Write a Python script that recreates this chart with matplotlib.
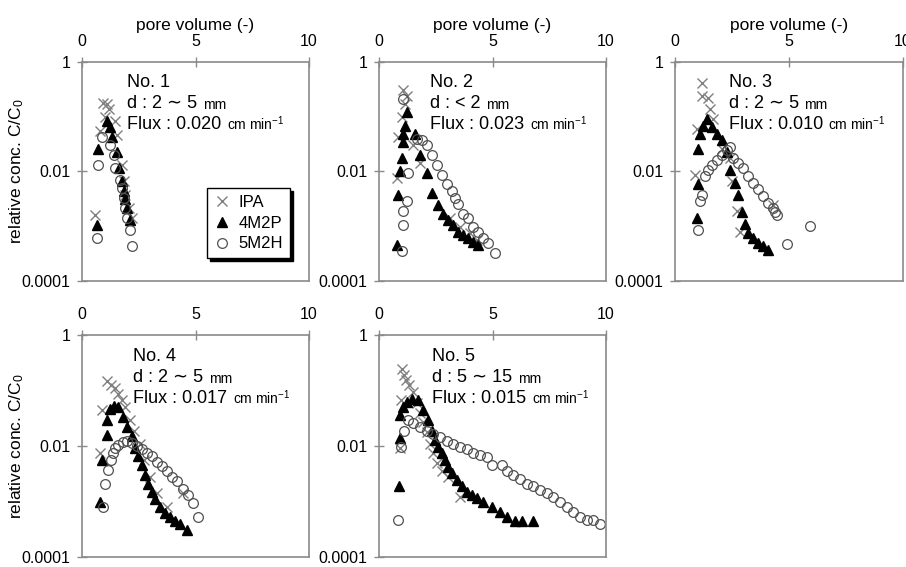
import numpy as np
import matplotlib.pyplot as plt

plt.rcParams['font.family'] = ['Liberation Sans', 'DejaVu Sans']
plt.rcParams['mathtext.fontset'] = 'custom'
plt.rcParams['mathtext.rm'] = 'Liberation Sans'
plt.rcParams['mathtext.it'] = 'Liberation Sans'

# Panel 1
p1_ipa_x = [0.94, 1.12, 1.21, 1.02, 0.80, 1.46, 1.53, 1.76, 1.83, 1.90, 2.05, 2.20, 0.58]
p1_ipa_y = [0.18, 0.17, 0.14, 0.10, 0.056, 0.085, 0.046, 0.013, 0.0066, 0.0038, 0.0022, 0.0014, 0.0016]
p1_m2p_x = [0.72, 1.09, 1.24, 1.31, 1.53, 1.65, 1.76, 1.83, 1.90, 1.98, 2.12, 0.65]
p1_m2p_y = [0.026, 0.085, 0.065, 0.043, 0.023, 0.0115, 0.0067, 0.0044, 0.0031, 0.0022, 0.0013, 0.00104]
p1_m2h_x = [0.72, 0.87, 1.24, 1.39, 1.46, 1.68, 1.76, 1.83, 1.90, 1.98, 2.12, 2.20, 0.65]
p1_m2h_y = [0.013, 0.043, 0.030, 0.020, 0.0115, 0.0071, 0.005, 0.0033, 0.0022, 0.0014, 0.00085, 0.00043, 0.0006]

# Panel 2
p2_ipa_x = [1.07, 1.22, 1.15, 1.00, 0.85, 1.51, 1.81, 0.78, 3.13, 3.57, 4.00, 4.30]
p2_ipa_y = [0.31, 0.24, 0.17, 0.10, 0.043, 0.030, 0.014, 0.0076, 0.0014, 0.00097, 0.00074, 0.00056]
p2_m2p_x = [0.78, 0.85, 0.93, 1.00, 1.07, 1.07, 1.15, 1.22, 1.59, 1.81, 2.10, 2.32, 2.61, 2.83,
            3.05, 3.27, 3.49, 3.71, 3.93, 4.15, 4.37]
p2_m2p_y = [0.00046, 0.0038, 0.010, 0.0175, 0.035, 0.049, 0.069, 0.12, 0.049, 0.020, 0.0094, 0.0041,
            0.0024, 0.0017, 0.0013, 0.00105, 0.00079, 0.00069, 0.0006, 0.00052, 0.00046]
p2_m2h_x = [1.00, 1.07, 1.07, 1.22, 1.29, 1.07, 1.66, 1.88, 2.10, 2.32, 2.54, 2.76, 2.98, 3.20,
            3.35, 3.49, 3.71, 3.93, 4.15, 4.37, 4.59, 4.81, 5.11]
p2_m2h_y = [0.00035, 0.00105, 0.0019, 0.0029, 0.0094, 0.21, 0.040, 0.037, 0.030, 0.020, 0.013,
            0.0088, 0.0058, 0.0044, 0.0033, 0.0025, 0.0017, 0.0014, 0.00097, 0.00079, 0.0006,
            0.00049, 0.00032]

# Panel 3
p3_ipa_x = [1.17, 1.17, 1.46, 1.54, 1.68, 0.95, 2.05, 2.41, 0.88, 2.48, 2.70, 2.85, 4.31]
p3_ipa_y = [0.41, 0.24, 0.22, 0.14, 0.091, 0.060, 0.026, 0.0175, 0.0088, 0.0066, 0.0019, 0.00079, 0.0024]
p3_m2p_x = [0.95, 1.02, 1.02, 1.10, 1.24, 1.39, 1.61, 1.83, 2.05, 2.27, 2.41, 2.63, 2.78, 2.92,
            3.07, 3.22, 3.43, 3.65, 3.87, 4.09]
p3_m2p_y = [0.0014, 0.0058, 0.026, 0.049, 0.069, 0.091, 0.065, 0.049, 0.037, 0.023, 0.0108, 0.0062,
            0.0038, 0.0018, 0.0011, 0.00074, 0.0006, 0.00049, 0.00043, 0.00037]
p3_m2h_x = [1.02, 1.10, 1.17, 1.32, 1.46, 1.61, 1.83, 2.05, 2.27, 2.41, 2.56, 2.78, 3.00, 3.22,
            3.43, 3.65, 3.87, 4.09, 4.31, 4.39, 4.46, 4.90, 5.92]
p3_m2h_y = [0.00085, 0.0029, 0.0038, 0.0082, 0.0108, 0.013, 0.016, 0.020, 0.025, 0.028, 0.0175,
            0.014, 0.0115, 0.0082, 0.0062, 0.0047, 0.0036, 0.0027, 0.0022, 0.0018, 0.0016,
            0.00048, 0.001]

# Panel 4
p4_ipa_x = [1.09, 1.26, 1.45, 1.60, 1.75, 1.89, 0.87, 2.11, 0.79, 2.29, 2.56, 2.73, 3.00, 3.29, 3.73, 4.46]
p4_ipa_y = [0.15, 0.126, 0.11, 0.087, 0.068, 0.051, 0.045, 0.029, 0.0074, 0.019, 0.011, 0.0056,
            0.0028, 0.0014, 0.00081, 0.0014]
p4_m2p_x = [0.79, 0.87, 1.09, 1.09, 1.23, 1.41, 1.60, 1.82, 2.00, 2.19, 2.33, 2.48, 2.63, 2.78,
            2.92, 3.07, 3.22, 3.44, 3.66, 3.88, 4.10, 4.32, 4.61]
p4_m2p_y = [0.001, 0.0056, 0.016, 0.029, 0.046, 0.053, 0.050, 0.034, 0.022, 0.015, 0.0091, 0.0065,
            0.0046, 0.0030, 0.0021, 0.0015, 0.0011, 0.00081, 0.00063, 0.00052, 0.00045, 0.00039,
            0.00031]
p4_m2h_x = [0.94, 1.01, 1.16, 1.26, 1.35, 1.45, 1.60, 1.79, 1.97, 2.19, 2.41, 2.63, 2.85, 3.07,
            3.29, 3.51, 3.73, 3.95, 4.17, 4.46, 4.68, 4.90, 5.12]
p4_m2h_y = [0.00081, 0.0021, 0.0037, 0.0056, 0.0074, 0.0091, 0.0105, 0.012, 0.0125, 0.0115, 0.010,
            0.0087, 0.0076, 0.0065, 0.0052, 0.0043, 0.0035, 0.0028, 0.0023, 0.0017, 0.0013,
            0.00093, 0.00053]

# Panel 5
p5_ipa_x = [1.03, 1.11, 1.19, 1.34, 0.95, 1.51, 1.66, 1.81, 1.95, 2.10, 2.25, 2.39, 2.54, 2.76,
            3.05, 3.57, 0.93]
p5_ipa_y = [0.24, 0.19, 0.155, 0.126, 0.068, 0.095, 0.059, 0.039, 0.027, 0.018, 0.011, 0.0074,
            0.0049, 0.0035, 0.0028, 0.00123, 0.0091]
p5_m2p_x = [0.90, 0.93, 0.93, 1.04, 1.22, 1.44, 1.73, 1.95, 2.17, 2.32, 2.47, 2.61, 2.76, 2.91,
            3.05, 3.20, 3.42, 3.64, 3.86, 4.08, 4.30, 4.60, 4.96, 5.33, 5.63, 5.99, 6.29, 6.80]
p5_m2p_y = [0.0019, 0.0138, 0.036, 0.051, 0.063, 0.069, 0.068, 0.045, 0.029, 0.019, 0.0128, 0.0097,
            0.0074, 0.0056, 0.0042, 0.0032, 0.0024, 0.0019, 0.0015, 0.0013, 0.00114, 0.001,
            0.00079, 0.00066, 0.00053, 0.00044, 0.00044, 0.00044]
p5_m2h_x = [0.85, 0.95, 1.10, 1.29, 1.51, 1.81, 2.10, 2.39, 2.69, 2.98, 3.27, 3.57, 3.86, 4.15,
            4.45, 4.74, 4.96, 5.41, 5.63, 5.92, 6.21, 6.51, 6.80, 7.09, 7.39, 7.68, 7.97, 8.27,
            8.56, 8.85, 9.15, 9.44, 9.74]
p5_m2h_y = [0.00047, 0.0097, 0.019, 0.029, 0.026, 0.022, 0.019, 0.0166, 0.0144, 0.0125, 0.0109,
            0.0097, 0.0087, 0.0076, 0.0069, 0.0063, 0.0046, 0.0046, 0.0035, 0.0030, 0.0025,
            0.0021, 0.0019, 0.0016, 0.0014, 0.00123, 0.001, 0.00081, 0.00066, 0.00053, 0.00047,
            0.00047, 0.00039]

panel_names = ['No. 1', 'No. 2', 'No. 3', 'No. 4', 'No. 5']
panel_d = ['2 \u223c 5', '< 2', '2 \u223c 5', '2 \u223c 5', '5 \u223c 15']
panel_flux = ['0.020', '0.023', '0.010', '0.017', '0.015']
series_names = ['IPA', '4M2P', '5M2H']

panels = [
    (p1_ipa_x, p1_ipa_y, p1_m2p_x, p1_m2p_y, p1_m2h_x, p1_m2h_y),
    (p2_ipa_x, p2_ipa_y, p2_m2p_x, p2_m2p_y, p2_m2h_x, p2_m2h_y),
    (p3_ipa_x, p3_ipa_y, p3_m2p_x, p3_m2p_y, p3_m2h_x, p3_m2h_y),
    (p4_ipa_x, p4_ipa_y, p4_m2p_x, p4_m2p_y, p4_m2h_x, p4_m2h_y),
    (p5_ipa_x, p5_ipa_y, p5_m2p_x, p5_m2p_y, p5_m2h_x, p5_m2h_y),
]

W, H = 906, 567
fig = plt.figure(figsize=(W / 100, H / 100), dpi=100)

# axes boxes in pixels: left, top, right, bottom
boxes = [(82, 62, 309, 281), (379, 62, 606, 281), (675, 62, 903, 281),
         (82, 335, 309, 557), (379, 335, 606, 557)]
text_x = [0.20, 0.225, 0.235, 0.225, 0.235]
axis_col = '#8a8a8a'

for i, (l, t, r, b) in enumerate(boxes):
    ax = fig.add_axes([l / W, 1 - b / H, (r - l) / W, (b - t) / H])
    ix, iy, tx, ty, cx, cy = panels[i]
    ax.plot(ix, iy, linestyle='none', marker='x', ms=7, mew=1.0, color='#808080', label=series_names[0])
    ax.plot(tx, ty, linestyle='none', marker='^', ms=7, color='black', label=series_names[1])
    ax.plot(cx, cy, linestyle='none', marker='o', ms=7, mfc='none', mec='#505050', mew=0.9,
            label=series_names[2])

    ax.set_yscale('log')
    ax.set_xlim(0, 10)
    ax.set_ylim(1e-4, 1)
    ax.set_yticks([1e-4, 1e-2, 1])
    ax.set_yticklabels(['0.0001', '0.01', '1'])
    ax.minorticks_off()
    ax.set_xticks([0, 5, 10])
    ax.set_xticklabels(['0', '5', '10'])
    ax.xaxis.tick_top()
    ax.tick_params(axis='both', direction='inout', length=7, width=1, color=axis_col,
                   labelsize=11.5)
    ax.tick_params(axis='x', pad=6)
    ax.tick_params(axis='y', pad=5)
    for s in ax.spines.values():
        s.set_color(axis_col)
        s.set_linewidth(1.2)

    if i < 3:
        ax.xaxis.set_label_position('top')
        ax.set_xlabel('pore volume (-)', fontsize=12.5, labelpad=3)
    if i in (0, 3):
        ax.set_ylabel('relative conc. C/C$_0$', fontsize=12.5)
        ax.yaxis.set_label_coords(-0.245, 0.5)

    fx = text_x[i]
    ax.text(fx, 0.905, panel_names[i], transform=ax.transAxes, fontsize=13, va='center')
    t2 = ax.text(fx, 0.81, 'd : ' + panel_d[i], transform=ax.transAxes, fontsize=13, va='center')
    ax.annotate('mm', xy=(1, 0), xycoords=t2, xytext=(4, 0), textcoords='offset points',
                fontsize=10, va='bottom')
    t3 = ax.text(fx, 0.715, 'Flux : ' + panel_flux[i], transform=ax.transAxes, fontsize=13, va='center')
    ax.annotate('cm min$^{-1}$', xy=(1, 0), xycoords=t3, xytext=(4, 0), textcoords='offset points',
                fontsize=10, va='bottom')

    if i == 0:
        leg = ax.legend(loc='lower right', bbox_to_anchor=(0.916, 0.105), borderaxespad=0,
                        fontsize=12, shadow={'color': 'black', 'alpha': 1}, fancybox=False,
                        framealpha=1, edgecolor='black', handlelength=1.0, handletextpad=0.5,
                        labelspacing=0.35, borderpad=0.4)
        leg.get_frame().set_linewidth(1.0)

fig.savefig('out.png', dpi=100)
